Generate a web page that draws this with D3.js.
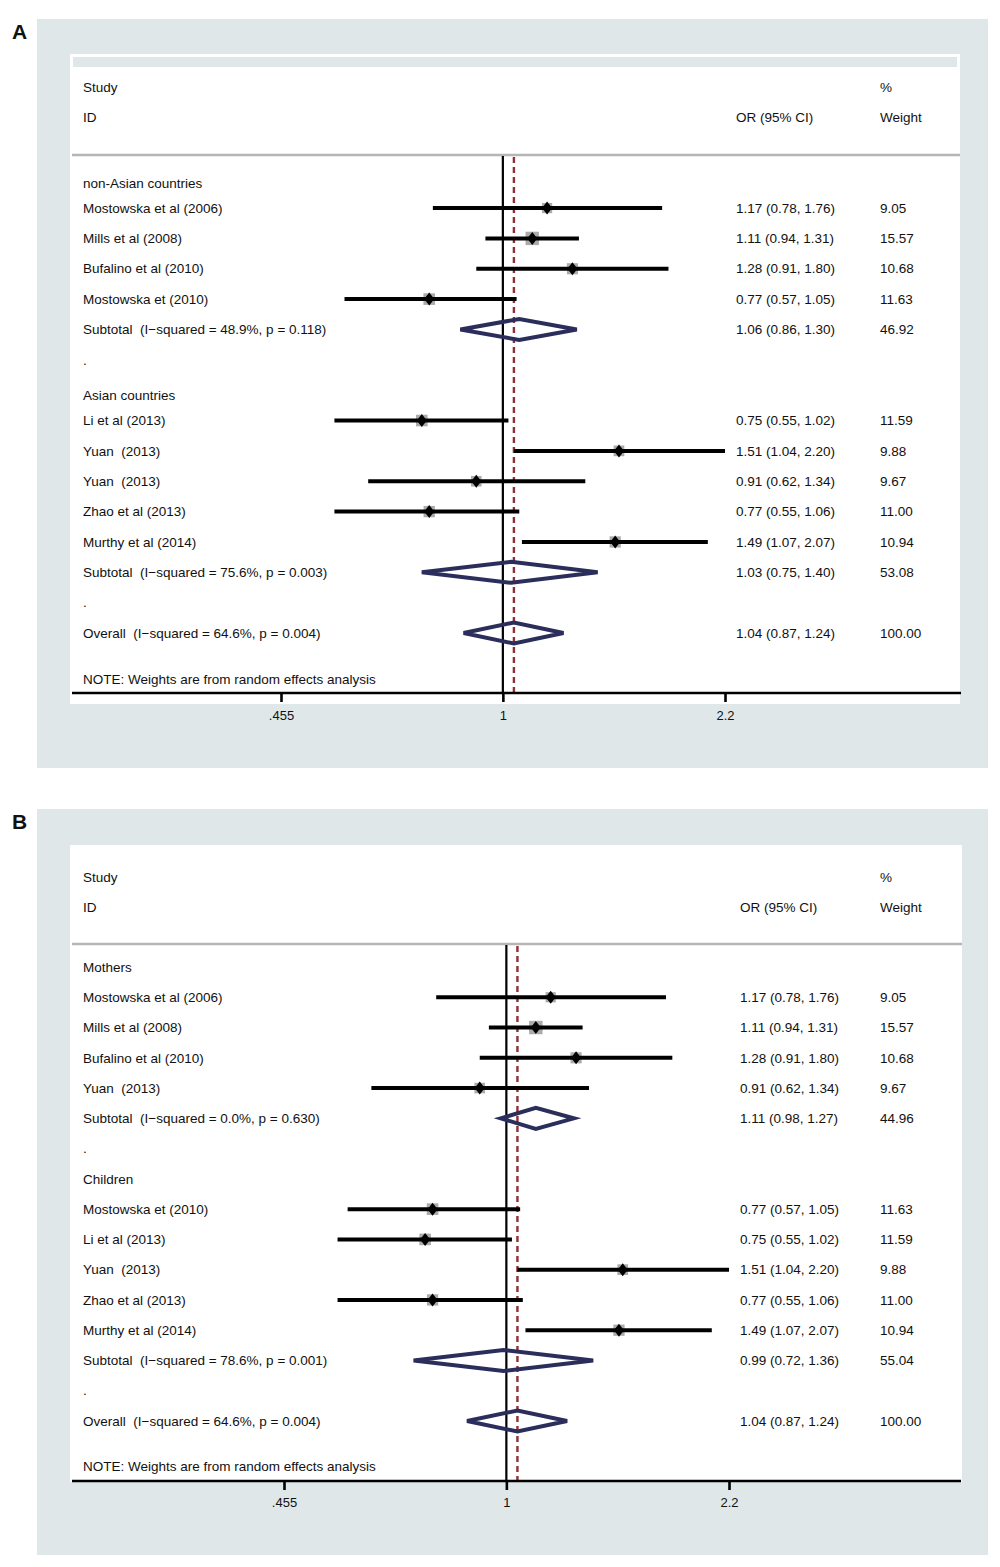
<!DOCTYPE html>
<html>
<head>
<meta charset="utf-8">
<script src="https://cdn.jsdelivr.net/npm/d3@7"></script>
<style>
  body { margin: 0; background: #fff; }
  svg { display: block; }
  text { font-family: "Liberation Sans", Arial, Helvetica, sans-serif; fill: #111; white-space: pre; }
</style>
</head>
<body>
<svg id="chart" width="1000" height="1567"></svg>
<script>
// row kinds: g = group heading, s = study, t = subtotal, b = blank ".", o = overall

// Panel A - by region
const labelsA = ["non-Asian countries", "Mostowska et al (2006)", "Mills et al (2008)", "Bufalino et al (2010)",
  "Mostowska et (2010)", "Subtotal  (I\u2212squared = 48.9%, p = 0.118)", ".", "Asian countries",
  "Li et al (2013)", "Yuan  (2013)", "Yuan  (2013)", "Zhao et al (2013)", "Murthy et al (2014)",
  "Subtotal  (I\u2212squared = 75.6%, p = 0.003)", ".", "Overall  (I\u2212squared = 64.6%, p = 0.004)"];
const kindsA = ["g", "s", "s", "s", "s", "t", "b", "g", "s", "s", "s", "s", "s", "t", "b", "o"];
const orA = [null, 1.17, 1.11, 1.28, 0.77, 1.06, null, null, 0.75, 1.51, 0.91, 0.77, 1.49, 1.03, null, 1.04];
const loA = [null, 0.78, 0.94, 0.91, 0.57, 0.86, null, null, 0.55, 1.04, 0.62, 0.55, 1.07, 0.75, null, 0.87];
const hiA = [null, 1.76, 1.31, 1.80, 1.05, 1.30, null, null, 1.02, 2.20, 1.34, 1.06, 2.07, 1.40, null, 1.24];
const weightA = [null, 9.05, 15.57, 10.68, 11.63, 46.92, null, null, 11.59, 9.88, 9.67, 11.00, 10.94, 53.08, null, 100.00];

// Panel B - by generation
const labelsB = ["Mothers", "Mostowska et al (2006)", "Mills et al (2008)", "Bufalino et al (2010)",
  "Yuan  (2013)", "Subtotal  (I\u2212squared = 0.0%, p = 0.630)", ".", "Children",
  "Mostowska et (2010)", "Li et al (2013)", "Yuan  (2013)", "Zhao et al (2013)", "Murthy et al (2014)",
  "Subtotal  (I\u2212squared = 78.6%, p = 0.001)", ".", "Overall  (I\u2212squared = 64.6%, p = 0.004)"];
const kindsB = ["g", "s", "s", "s", "s", "t", "b", "g", "s", "s", "s", "s", "s", "t", "b", "o"];
const orB = [null, 1.17, 1.11, 1.28, 0.91, 1.11, null, null, 0.77, 0.75, 1.51, 0.77, 1.49, 0.99, null, 1.04];
const loB = [null, 0.78, 0.94, 0.91, 0.62, 0.98, null, null, 0.57, 0.55, 1.04, 0.55, 1.07, 0.72, null, 0.87];
const hiB = [null, 1.76, 1.31, 1.80, 1.34, 1.27, null, null, 1.05, 1.02, 2.20, 1.06, 2.07, 1.36, null, 1.24];
const weightB = [null, 9.05, 15.57, 10.68, 9.67, 44.96, null, null, 11.63, 11.59, 9.88, 11.00, 10.94, 55.04, null, 100.00];

const tickValues = [0.455, 1, 2.2];
const tickLabels = [".455", "1", "2.2"];
const overallOR = 1.04;
const noteText = "NOTE: Weights are from random effects analysis";

const svg = d3.select("#chart");
const bg = "#dfe7e9";
const navy = "#2b2d5b";
const fs = "13.5px";

function drawPanel(p, rows) {
  const g = svg.append("g");

  // grey frame and white plot region
  g.append("rect").attr("x", 37).attr("y", p.top).attr("width", 951).attr("height", p.bottom - p.top).attr("fill", bg);
  g.append("rect").attr("x", 70).attr("y", p.whiteTop).attr("width", p.whiteRight - 70)
    .attr("height", p.whiteBottom - p.whiteTop).attr("fill", "#fff");
  if (p.strip) {
    g.append("rect").attr("x", 73).attr("y", p.whiteTop + 3).attr("width", p.whiteRight - 76)
      .attr("height", 10).attr("fill", bg);
  }

  g.append("text").attr("x", 12).attr("y", p.top + 13).attr("dy", "0.35em")
    .style("font-size", "21px").style("font-weight", "bold").text(p.letter);

  const x = d3.scaleLog().domain([tickValues[0], tickValues[2]]).range(p.xRange);
  const y = d3.scaleLinear().domain([0, 15]).range([p.row0, p.row15]);

  // header
  const head = [["Study", 83, p.head1], ["ID", 83, p.head2], ["OR (95% CI)", p.orX, p.head2],
    ["%", 880, p.head1], ["Weight", 880, p.head2]];
  g.selectAll("text.head").data(head).enter().append("text").attr("class", "head")
    .attr("x", d => d[1]).attr("y", d => d[2]).attr("dy", "0.35em").style("font-size", fs).text(d => d[0]);
  g.append("line").attr("x1", 72).attr("x2", p.whiteRight).attr("y1", p.headLine).attr("y2", p.headLine)
    .attr("stroke", "#b5b5b5").attr("stroke-width", 2.5);

  // reference lines
  g.append("line").attr("x1", x(1)).attr("x2", x(1)).attr("y1", p.headLine + 1).attr("y2", p.axisY)
    .attr("stroke", "#000").attr("stroke-width", 2.2);
  g.append("line").attr("x1", x(overallOR)).attr("x2", x(overallOR)).attr("y1", p.headLine + 2).attr("y2", p.axisY)
    .attr("stroke", "#8f3036").attr("stroke-width", 2.4).attr("stroke-dasharray", "6,4");

  // axis
  const axis = d3.axisBottom(x).tickValues(tickValues).tickFormat((d, i) => tickLabels[i]).tickSizeOuter(0).tickSize(9);
  const ax = g.append("g").attr("transform", `translate(0,${p.axisY})`).call(axis);
  ax.select(".domain").remove();
  ax.append("line").attr("x1", 72).attr("x2", 961).attr("stroke", "#000").attr("stroke-width", 2.6);
  ax.selectAll(".tick line").attr("stroke", "#000").attr("stroke-width", 2.6);
  ax.selectAll(".tick text").attr("y", p.tickLabelDy).attr("dy", "0.35em")
    .style("font-size", "13px").style("font-family", '"Liberation Sans", Arial, sans-serif').attr("fill", "#111");

  // rows
  rows.forEach((r, i) => {
    const yy = y(i);
    const ty = r.kind === "g" ? yy + p.groupOffset : yy;
    g.append("text").attr("x", 83).attr("y", ty).attr("dy", "0.35em").style("font-size", fs).text(r.label);
    if (r.or == null) return;
    g.append("text").attr("x", p.orX).attr("y", yy).attr("dy", "0.35em").style("font-size", fs)
      .text(`${r.or.toFixed(2)} (${r.lo.toFixed(2)}, ${r.hi.toFixed(2)})`);
    g.append("text").attr("x", 880).attr("y", yy).attr("dy", "0.35em").style("font-size", fs)
      .text(r.w.toFixed(2));

    if (r.kind === "s") {
      const side = 3.4 * Math.sqrt(r.w);
      g.append("rect").attr("x", x(r.or) - side / 2).attr("y", yy - side / 2).attr("width", side).attr("height", side)
        .attr("fill", "#ababab");
      g.append("line").attr("x1", x(r.lo)).attr("x2", x(r.hi)).attr("y1", yy).attr("y2", yy)
        .attr("stroke", "#000").attr("stroke-width", 4);
      const cx = x(r.or);
      g.append("path").attr("d", `M${cx - 5},${yy}L${cx},${yy - 6.5}L${cx + 5},${yy}L${cx},${yy + 6.5}Z`).attr("fill", "#000");
    } else {
      const cx = x(r.or);
      g.append("path")
        .attr("d", `M${x(r.lo)},${yy}L${cx},${yy - 10.5}L${x(r.hi)},${yy}L${cx},${yy + 10.5}Z`)
        .attr("fill", "none").attr("stroke", navy).attr("stroke-width", 4).attr("stroke-linejoin", "miter");
    }
  });

  g.append("text").attr("x", 83).attr("y", p.noteY).attr("dy", "0.35em").style("font-size", fs).text(noteText);
}

function rowsOf(labels, kinds, or, lo, hi, w) {
  return labels.map((label, i) => ({ label, kind: kinds[i], or: or[i], lo: lo[i], hi: hi[i], w: w[i] }));
}

drawPanel({
  letter: "A", top: 19, bottom: 768, whiteTop: 54, whiteBottom: 704, whiteRight: 960, strip: true,
  head1: 87, head2: 117, headLine: 155, orX: 736, row0: 177.7, row15: 633, groupOffset: 5.5,
  axisY: 693, tickLabelDy: 22, noteY: 679, xRange: [281, 725]
}, rowsOf(labelsA, kindsA, orA, loA, hiA, weightA));

drawPanel({
  letter: "B", top: 809, bottom: 1555, whiteTop: 845, whiteBottom: 1482, whiteRight: 962, strip: false,
  head1: 877, head2: 907, headLine: 944, orX: 740, row0: 967, row15: 1421, groupOffset: 0,
  axisY: 1481, tickLabelDy: 21, noteY: 1466, xRange: [284, 729]
}, rowsOf(labelsB, kindsB, orB, loB, hiB, weightB));
</script>
</body>
</html>
